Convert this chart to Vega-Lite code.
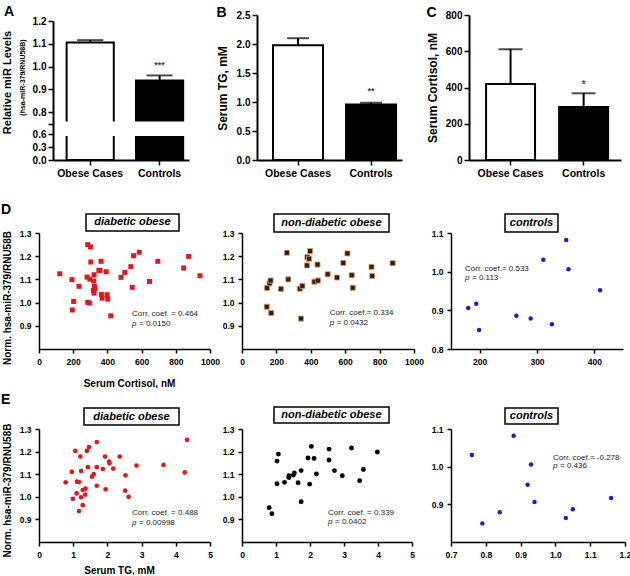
{
  "$schema": "https://vega.github.io/schema/vega-lite/v6.json",
  "background": "white",
  "padding": {"left": 0, "top": 5, "right": 0, "bottom": 0},
  "columns": 3,
  "bounds": "flush",
  "spacing": {"row": 73, "column": 32},
  "config": {
    "font": "Liberation Sans",
    "view": {"stroke": null},
    "axis": {"grid": false, "labelOverlap": false, "labelFlush": false, "labelBound": false, "domainColor": "black", "tickColor": "black", "labelColor": "black", "titleColor": "black", "labelFontWeight": "bold", "titleFontWeight": "bold", "labelFont": "Liberation Sans", "titleFont": "Liberation Sans"},
    "title": {"font": "Liberation Sans", "color": "black"}
  },
  "concat": [
    {
      "width": 150, "height": 145,
      "title": {"text": "A", "anchor": "start", "frame": "group", "fontSize": 14, "fontWeight": "bold", "dx": -35, "dy": 4, "offset": 0},
      "data": {"values": [
        {"group": "Obese Cases", "mean": 1.106, "upper": 1.116, "sig": ""},
        {"group": "Controls", "mean": 0.939, "upper": 0.961, "sig": "***"}
      ]},
      "encoding": {
        "x": {"field": "group", "type": "nominal", "sort": null,
          "scale": {"range": [14, 150], "paddingInner": 0.32, "paddingOuter": 0.14, "align": 0.7},
          "axis": {"labelAngle": 0, "labelOverlap": false, "labelFontSize": 10.5, "labelPadding": 3, "tickSize": 5, "tickWidth": 1.5, "domainWidth": 2,
            "title": "Relative miR Levels", "titleFontSize": 11, "titleAngle": 270, "titleX": -32, "titleY": -78, "titleAlign": "center", "titleBaseline": "middle"}}
      },
      "layer": [
        {"mark": {"type": "bar", "stroke": "black", "strokeWidth": 2},
         "encoding": {
           "y": {"field": "mean", "type": "quantitative",
             "scale": {"domain": [0, 0.6, 0.75, 1.2], "range": [145, 119, 108.5, 6], "nice": false},
             "axis": {"values": [0, 0.3, 0.6, 0.75, 0.8, 0.9, 1.0, 1.1, 1.2], "labelExpr": "datum.value > 0.7 && datum.value < 0.78 ? '' : datum.label", "tickCount": 50, "labelOverlap": false, "labelSeparation": -100, "labelBound": false, "labelFlush": false, "format": ".1f", "offset": -14, "labelFontSize": 10, "labelPadding": 2, "tickSize": 5, "tickWidth": 1.5, "domainWidth": 2,
               "title": "(hsa-miR-379/RNU58B)", "titleFontSize": 7, "titleAngle": 270, "titleX": -31, "titleY": 62, "titleAlign": "center", "titleBaseline": "middle"}},
           "fill": {"field": "group", "type": "nominal", "scale": {"domain": ["Obese Cases", "Controls"], "range": ["white", "black"]}, "legend": null}
         }},
        {"mark": {"type": "rect", "fill": "white", "stroke": "white", "strokeWidth": 4},
         "encoding": {"y": {"datum": 0.6}, "y2": {"datum": 0.75}}},
        {"mark": {"type": "rule", "color": "black", "strokeWidth": 2},
         "encoding": {"y": {"field": "mean", "type": "quantitative"}, "y2": {"field": "upper"}}},
        {"mark": {"type": "tick", "color": "black", "thickness": 2, "size": 26},
         "encoding": {"y": {"field": "upper", "type": "quantitative"}}},
        {"mark": {"type": "text", "fontSize": 9, "fontWeight": "bold", "color": "#444", "dy": -10, "baseline": "middle"},
         "encoding": {"y": {"field": "upper", "type": "quantitative"}, "text": {"field": "sig"}}}
      ]
    },
    {
      "width": 160, "height": 145,
      "data": {"values": [
        {"group": "Obese Cases", "mean": 1.98, "upper": 2.10, "sig": ""},
        {"group": "Controls", "mean": 0.955, "upper": 0.985, "sig": "**"}
      ]},
      "encoding": {
        "x": {"field": "group", "type": "nominal", "sort": null,
          "scale": {"range": [15, 160], "paddingInner": 0.315, "paddingOuter": 0.15, "align": 0.73},
          "axis": {"labelAngle": 0, "labelOverlap": false, "labelFontSize": 10.5, "labelPadding": 3, "tickSize": 5, "tickWidth": 1.5, "domainWidth": 2,
            "title": "B", "titleFontSize": 14, "titleAngle": 0, "titleX": -26, "titleY": -143.5, "titleAlign": "left", "titleBaseline": "alphabetic"}}
      },
      "layer": [
        {"mark": {"type": "bar", "stroke": "black", "strokeWidth": 2},
         "encoding": {
           "y": {"field": "mean", "type": "quantitative",
             "scale": {"domain": [0, 2.5], "nice": false},
             "axis": {"values": [0, 0.5, 1.0, 1.5, 2.0, 2.5], "tickCount": 50, "labelOverlap": false, "format": ".1f", "offset": -15, "labelFontSize": 10, "labelPadding": 2, "tickSize": 5, "tickWidth": 1.5, "domainWidth": 2,
               "title": "Serum TG, mM", "titleFontSize": 12, "titleAngle": 270, "titleX": -35, "titleY": 73, "titleAlign": "center", "titleBaseline": "middle"}},
           "fill": {"field": "group", "type": "nominal", "scale": {"domain": ["Obese Cases", "Controls"], "range": ["white", "black"]}, "legend": null}
         }},
        {"mark": {"type": "rule", "color": "black", "strokeWidth": 2},
         "encoding": {"y": {"field": "mean", "type": "quantitative"}, "y2": {"field": "upper"}}},
        {"mark": {"type": "tick", "color": "black", "thickness": 2, "size": 22},
         "encoding": {"y": {"field": "upper", "type": "quantitative"}}},
        {"mark": {"type": "text", "fontSize": 9, "fontWeight": "bold", "color": "#444", "dy": -12, "baseline": "middle"},
         "encoding": {"y": {"field": "upper", "type": "quantitative"}, "text": {"field": "sig"}}}
      ]
    },
    {
      "width": 175, "height": 145,
      "data": {"values": [
        {"group": "Obese Cases", "mean": 419, "upper": 611, "sig": ""},
        {"group": "Controls", "mean": 292, "upper": 368, "sig": "*"}
      ]},
      "encoding": {
        "x": {"field": "group", "type": "nominal", "sort": null,
          "scale": {"range": [23, 175], "paddingInner": 0.33, "paddingOuter": 0.205, "align": 0.57},
          "axis": {"labelAngle": 0, "labelOverlap": false, "labelFontSize": 10.5, "labelPadding": 3, "tickSize": 5, "tickWidth": 1.5, "domainWidth": 2,
            "title": "C", "titleFontSize": 14, "titleAngle": 0, "titleX": -20, "titleY": -143.5, "titleAlign": "left", "titleBaseline": "alphabetic"}}
      },
      "layer": [
        {"mark": {"type": "bar", "stroke": "black", "strokeWidth": 2},
         "encoding": {
           "y": {"field": "mean", "type": "quantitative",
             "scale": {"domain": [0, 800], "nice": false},
             "axis": {"values": [0, 200, 400, 600, 800], "tickCount": 50, "labelOverlap": false, "format": "d", "offset": -23, "labelFontSize": 10, "labelPadding": 2, "tickSize": 5, "tickWidth": 1.5, "domainWidth": 2,
               "title": "Serum Cortisol, nM", "titleFontSize": 12, "titleAngle": 270, "titleX": -37, "titleY": 72.5, "titleAlign": "center", "titleBaseline": "middle"}},
           "fill": {"field": "group", "type": "nominal", "scale": {"domain": ["Obese Cases", "Controls"], "range": ["white", "black"]}, "legend": null}
         }},
        {"mark": {"type": "rule", "color": "black", "strokeWidth": 2},
         "encoding": {"y": {"field": "mean", "type": "quantitative"}, "y2": {"field": "upper"}}},
        {"mark": {"type": "tick", "color": "black", "thickness": 2, "size": 24},
         "encoding": {"y": {"field": "upper", "type": "quantitative"}}},
        {"mark": {"type": "text", "fontSize": 10, "fontWeight": "bold", "color": "#444", "dy": -8, "baseline": "middle"},
         "encoding": {"y": {"field": "upper", "type": "quantitative"}, "text": {"field": "sig"}}}
      ]
    },
    {
      "width": 171, "height": 116,
      "title": {"text": "D", "anchor": "start", "frame": "group", "fontSize": 14, "fontWeight": "bold", "dx": -38, "dy": 4, "offset": 0},
      "layer": [
        {"data": {"values": [
          {"cortisol": 121, "mir": 1.124}, {"cortisol": 193, "mir": 1.099}, {"cortisol": 234, "mir": 1.070}, {"cortisol": 203, "mir": 1.005},
          {"cortisol": 195, "mir": 0.968}, {"cortisol": 285, "mir": 1.250}, {"cortisol": 301, "mir": 1.240}, {"cortisol": 303, "mir": 1.175},
          {"cortisol": 281, "mir": 1.110}, {"cortisol": 297, "mir": 1.101}, {"cortisol": 322, "mir": 1.120}, {"cortisol": 320, "mir": 1.093},
          {"cortisol": 324, "mir": 1.070}, {"cortisol": 328, "mir": 1.061}, {"cortisol": 318, "mir": 1.053}, {"cortisol": 322, "mir": 1.041},
          {"cortisol": 285, "mir": 1.001}, {"cortisol": 295, "mir": 0.998}, {"cortisol": 350, "mir": 1.139}, {"cortisol": 363, "mir": 1.178},
          {"cortisol": 357, "mir": 1.139}, {"cortisol": 393, "mir": 1.133}, {"cortisol": 365, "mir": 1.035}, {"cortisol": 369, "mir": 1.019},
          {"cortisol": 398, "mir": 1.034}, {"cortisol": 402, "mir": 1.015}, {"cortisol": 420, "mir": 0.943}, {"cortisol": 480, "mir": 1.109},
          {"cortisol": 502, "mir": 1.130}, {"cortisol": 537, "mir": 1.155}, {"cortisol": 553, "mir": 1.202}, {"cortisol": 586, "mir": 1.217},
          {"cortisol": 545, "mir": 1.066}, {"cortisol": 646, "mir": 1.091}, {"cortisol": 695, "mir": 1.178}, {"cortisol": 846, "mir": 1.149},
          {"cortisol": 875, "mir": 1.199}, {"cortisol": 941, "mir": 1.116}
        ]},
         "mark": {"type": "point", "shape": "square", "filled": true, "size": 25, "color": "#e8141c", "opacity": 1},
         "encoding": {
           "x": {"field": "cortisol", "type": "quantitative", "scale": {"domain": [0, 1000], "range": [0, 171], "nice": false},
             "axis": {"values": [0, 200, 400, 600, 800, 1000], "format": "d", "tickCount": 50, "labelOverlap": false, "labelFontSize": 8.5, "labelPadding": 4, "tickSize": 4, "tickWidth": 1.5, "domainWidth": 1.5,
               "title": "Serum Cortisol, nM", "titleFontSize": 10, "titleX": 90, "titleY": 34, "titleAlign": "center", "titleBaseline": "middle"}},
           "y": {"field": "mir", "type": "quantitative", "scale": {"domain": [0.8, 1.3], "range": [116, 0], "nice": false},
             "axis": {"values": [0.9, 1.0, 1.1, 1.2, 1.3], "tickCount": 50, "labelOverlap": false, "format": ".1f", "labelFontSize": 8.5, "labelPadding": 4, "tickSize": 4, "tickWidth": 1.5, "domainWidth": 1.5,
               "title": "Norm. hsa-miR-379/RNU58B", "titleFontSize": 10, "titleAngle": 270, "titleX": -32, "titleY": 64.5, "titleAlign": "center", "titleBaseline": "middle"}}
         }},
        {"data": {"values": [{}]}, "mark": {"type": "rect", "fill": "white", "stroke": "black", "strokeWidth": 1.5},
         "encoding": {"x": {"datum": 274.9}, "x2": {"datum": 818.7}, "y": {"datum": 1.3819}, "y2": {"datum": 1.3086}}},
        {"data": {"values": [{}]}, "mark": {"type": "text", "text": "diabetic obese", "fontSize": 11, "fontStyle": "italic", "fontWeight": "bold", "align": "center", "baseline": "middle"},
         "encoding": {"x": {"datum": 546.8}, "y": {"datum": 1.3453}}},
        {"data": {"values": [{}]}, "mark": {"type": "text", "text": "Corr. coef. = 0.464", "fontSize": 8, "color": "#222", "align": "left", "baseline": "middle"},
         "encoding": {"x": {"datum": 543.9}, "y": {"datum": 0.9496}}},
        {"data": {"values": [{}]}, "mark": {"type": "text", "text": "p", "fontSize": 8, "fontStyle": "italic", "color": "#222", "align": "left", "baseline": "middle"},
         "encoding": {"x": {"datum": 543.9}, "y": {"datum": 0.9065}}},
        {"data": {"values": [{}]}, "mark": {"type": "text", "text": "= 0.0150", "fontSize": 8, "color": "#222", "align": "left", "baseline": "middle", "dx": 7},
         "encoding": {"x": {"datum": 543.9}, "y": {"datum": 0.9065}}}
      ]
    },
    {
      "width": 172, "height": 116,
      "layer": [
        {"data": {"values": [
          {"cortisol": 146, "mir": 1.063}, {"cortisol": 160, "mir": 1.083}, {"cortisol": 166, "mir": 1.095}, {"cortisol": 144, "mir": 0.982},
          {"cortisol": 170, "mir": 0.955}, {"cortisol": 261, "mir": 1.215}, {"cortisol": 269, "mir": 1.100}, {"cortisol": 226, "mir": 1.059},
          {"cortisol": 336, "mir": 1.060}, {"cortisol": 351, "mir": 1.072}, {"cortisol": 343, "mir": 0.931}, {"cortisol": 380, "mir": 1.196},
          {"cortisol": 390, "mir": 1.189}, {"cortisol": 396, "mir": 1.222}, {"cortisol": 378, "mir": 1.160}, {"cortisol": 439, "mir": 1.164},
          {"cortisol": 421, "mir": 1.090}, {"cortisol": 441, "mir": 1.095}, {"cortisol": 498, "mir": 1.122}, {"cortisol": 552, "mir": 1.108},
          {"cortisol": 613, "mir": 1.212}, {"cortisol": 589, "mir": 1.171}, {"cortisol": 638, "mir": 1.118}, {"cortisol": 644, "mir": 1.064},
          {"cortisol": 753, "mir": 1.154}, {"cortisol": 757, "mir": 1.115}, {"cortisol": 876, "mir": 1.170}
        ]},
         "mark": {"type": "point", "shape": "square", "filled": true, "size": 26, "fill": "#3a1c0c", "stroke": "#d9a066", "strokeWidth": 0.8, "opacity": 1},
         "encoding": {
           "x": {"field": "cortisol", "type": "quantitative", "scale": {"domain": [0, 1000], "range": [0, 172], "nice": false},
             "axis": {"values": [0, 200, 400, 600, 800, 1000], "format": "d", "tickCount": 50, "labelOverlap": false, "labelFontSize": 8.5, "labelPadding": 4, "tickSize": 4, "tickWidth": 1.5, "domainWidth": 1.5, "title": null}},
           "y": {"field": "mir", "type": "quantitative", "scale": {"domain": [0.8, 1.3], "range": [116, 0], "nice": false},
             "axis": {"values": [0.9, 1.0, 1.1, 1.2, 1.3], "tickCount": 50, "labelOverlap": false, "format": ".1f", "labelFontSize": 8.5, "labelPadding": 4, "tickSize": 4, "tickWidth": 1.5, "domainWidth": 1.5, "title": null}}
         }},
        {"data": {"values": [{}]}, "mark": {"type": "rect", "fill": "white", "stroke": "black", "strokeWidth": 1.5},
         "encoding": {"x": {"datum": 186}, "x2": {"datum": 854.7}, "y": {"datum": 1.3819}, "y2": {"datum": 1.3043}}},
        {"data": {"values": [{}]}, "mark": {"type": "text", "text": "non-diabetic obese", "fontSize": 11, "fontStyle": "italic", "fontWeight": "bold", "align": "center", "baseline": "middle"},
         "encoding": {"x": {"datum": 520}, "y": {"datum": 1.3431}}},
        {"data": {"values": [{}]}, "mark": {"type": "text", "text": "Corr. coef.= 0.334", "fontSize": 8, "color": "#222", "align": "left", "baseline": "middle"},
         "encoding": {"x": {"datum": 509.9}, "y": {"datum": 0.9539}}},
        {"data": {"values": [{}]}, "mark": {"type": "text", "text": "p", "fontSize": 8, "fontStyle": "italic", "color": "#222", "align": "left", "baseline": "middle"},
         "encoding": {"x": {"datum": 509.9}, "y": {"datum": 0.9134}}},
        {"data": {"values": [{}]}, "mark": {"type": "text", "text": "= 0.0432", "fontSize": 8, "color": "#222", "align": "left", "baseline": "middle", "dx": 7},
         "encoding": {"x": {"datum": 509.9}, "y": {"datum": 0.9134}}}
      ]
    },
    {
      "width": 177, "height": 116,
      "layer": [
        {"data": {"values": [
          {"cortisol": 180, "mir": 0.906}, {"cortisol": 194, "mir": 0.917}, {"cortisol": 199, "mir": 0.849}, {"cortisol": 264, "mir": 0.886},
          {"cortisol": 289, "mir": 0.879}, {"cortisol": 311, "mir": 1.031}, {"cortisol": 326, "mir": 0.864}, {"cortisol": 351, "mir": 1.082},
          {"cortisol": 355, "mir": 1.006}, {"cortisol": 410, "mir": 0.952}
        ]},
         "mark": {"type": "circle", "size": 20, "color": "#1c1cd8", "opacity": 1},
         "encoding": {
           "x": {"field": "cortisol", "type": "quantitative", "scale": {"domain": [150, 450], "range": [5, 177], "nice": false},
             "axis": {"values": [200, 300, 400], "format": "d", "tickCount": 50, "labelOverlap": false, "labelFontSize": 8.5, "labelPadding": 4, "tickSize": 4, "tickWidth": 1.5, "domainWidth": 1.5, "title": null}},
           "y": {"field": "mir", "type": "quantitative", "scale": {"domain": [0.8, 1.1], "range": [116, 0], "nice": false},
             "axis": {"values": [0.8, 0.9, 1.0, 1.1], "tickCount": 50, "labelOverlap": false, "format": ".1f", "offset": -5, "labelFontSize": 8.5, "labelPadding": 4, "tickSize": 4, "tickWidth": 1.5, "domainWidth": 1.5, "title": null}}
         }},
        {"data": {"values": [{}]}, "mark": {"type": "rect", "fill": "white", "stroke": "black", "strokeWidth": 1.5},
         "encoding": {"x": {"datum": 244.2}, "x2": {"datum": 336.6}, "y": {"datum": 1.1491}, "y2": {"datum": 1.1026}}},
        {"data": {"values": [{}]}, "mark": {"type": "text", "text": "controls", "fontSize": 11, "fontStyle": "italic", "fontWeight": "bold", "align": "center", "baseline": "middle"},
         "encoding": {"x": {"datum": 290.4}, "y": {"datum": 1.1259}}},
        {"data": {"values": [{}]}, "mark": {"type": "text", "text": "Corr. coef.= 0.533", "fontSize": 8, "color": "#222", "align": "left", "baseline": "middle"},
         "encoding": {"x": {"datum": 174.4}, "y": {"datum": 1.0069}}},
        {"data": {"values": [{}]}, "mark": {"type": "text", "text": "p", "fontSize": 8, "fontStyle": "italic", "color": "#222", "align": "left", "baseline": "middle"},
         "encoding": {"x": {"datum": 174.4}, "y": {"datum": 0.9829}}},
        {"data": {"values": [{}]}, "mark": {"type": "text", "text": "= 0.113", "fontSize": 8, "color": "#222", "align": "left", "baseline": "middle", "dx": 7},
         "encoding": {"x": {"datum": 174.4}, "y": {"datum": 0.9829}}}
      ]
    },
    {
      "width": 171, "height": 120,
      "title": {"text": "E", "anchor": "start", "frame": "group", "fontSize": 14, "fontWeight": "bold", "dx": -38, "offset": 0},
      "layer": [
        {"data": {"values": [
          {"tg": 0.78, "mir": 1.064}, {"tg": 0.96, "mir": 1.110}, {"tg": 0.99, "mir": 0.991}, {"tg": 1.06, "mir": 1.203},
          {"tg": 1.11, "mir": 1.067}, {"tg": 1.17, "mir": 1.065}, {"tg": 1.10, "mir": 1.015}, {"tg": 1.21, "mir": 1.178},
          {"tg": 1.23, "mir": 1.114}, {"tg": 1.23, "mir": 0.998}, {"tg": 1.17, "mir": 0.937}, {"tg": 1.28, "mir": 1.030},
          {"tg": 1.28, "mir": 0.963}, {"tg": 1.36, "mir": 1.036}, {"tg": 1.35, "mir": 1.010}, {"tg": 1.40, "mir": 1.203},
          {"tg": 1.46, "mir": 1.220}, {"tg": 1.43, "mir": 1.131}, {"tg": 1.55, "mir": 1.089}, {"tg": 1.60, "mir": 1.100},
          {"tg": 1.69, "mir": 1.242}, {"tg": 1.69, "mir": 1.131}, {"tg": 1.69, "mir": 1.049}, {"tg": 1.87, "mir": 1.123},
          {"tg": 1.93, "mir": 1.178}, {"tg": 1.95, "mir": 1.033}, {"tg": 2.05, "mir": 1.156}, {"tg": 2.06, "mir": 1.148},
          {"tg": 2.17, "mir": 1.125}, {"tg": 2.36, "mir": 1.178}, {"tg": 2.53, "mir": 1.095}, {"tg": 2.52, "mir": 1.027},
          {"tg": 2.62, "mir": 1.000}, {"tg": 2.85, "mir": 1.138}, {"tg": 3.64, "mir": 1.141}, {"tg": 4.26, "mir": 1.108},
          {"tg": 4.33, "mir": 1.252}
        ]},
         "mark": {"type": "circle", "size": 22, "color": "#e8141c", "opacity": 1},
         "encoding": {
           "x": {"field": "tg", "type": "quantitative", "scale": {"domain": [0, 5], "range": [0, 171], "nice": false},
             "axis": {"values": [0, 1, 2, 3, 4, 5], "format": "d", "tickCount": 50, "labelOverlap": false, "labelFontSize": 8.5, "labelPadding": 4, "tickSize": 4, "tickWidth": 1.5, "domainWidth": 1.5,
               "title": "Serum TG, mM", "titleFontSize": 10, "titleX": 80, "titleY": 28, "titleAlign": "center", "titleBaseline": "middle"}},
           "y": {"field": "mir", "type": "quantitative", "scale": {"domain": [0.8, 1.3], "range": [120, 7], "nice": false},
             "axis": {"values": [0.9, 1.0, 1.1, 1.2, 1.3], "tickCount": 50, "labelOverlap": false, "format": ".1f", "labelFontSize": 8.5, "labelPadding": 4, "tickSize": 4, "tickWidth": 1.5, "domainWidth": 1.5,
               "title": "Norm. hsa-miR-379/RNU58B", "titleFontSize": 10, "titleAngle": 270, "titleX": -32, "titleY": 68, "titleAlign": "center", "titleBaseline": "middle"}}
         }},
        {"data": {"values": [{}]}, "mark": {"type": "rect", "fill": "white", "stroke": "black", "strokeWidth": 1.5},
         "encoding": {"x": {"datum": 1.316}, "x2": {"datum": 4.094}, "y": {"datum": 1.3929}, "y2": {"datum": 1.3177}}},
        {"data": {"values": [{}]}, "mark": {"type": "text", "text": "diabetic obese", "fontSize": 11, "fontStyle": "italic", "fontWeight": "bold", "align": "center", "baseline": "middle"},
         "encoding": {"x": {"datum": 2.705}, "y": {"datum": 1.3553}}},
        {"data": {"values": [{}]}, "mark": {"type": "text", "text": "Corr. coef. = 0.488", "fontSize": 8, "color": "#222", "align": "left", "baseline": "middle"},
         "encoding": {"x": {"datum": 2.719}, "y": {"datum": 0.9283}}},
        {"data": {"values": [{}]}, "mark": {"type": "text", "text": "p", "fontSize": 8, "fontStyle": "italic", "color": "#222", "align": "left", "baseline": "middle"},
         "encoding": {"x": {"datum": 2.719}, "y": {"datum": 0.8841}}},
        {"data": {"values": [{}]}, "mark": {"type": "text", "text": "= 0.00998", "fontSize": 8, "color": "#222", "align": "left", "baseline": "middle", "dx": 7},
         "encoding": {"x": {"datum": 2.719}, "y": {"datum": 0.8841}}}
      ]
    },
    {
      "width": 170, "height": 120,
      "layer": [
        {"data": {"values": [
          {"tg": 0.80, "mir": 0.952}, {"tg": 0.88, "mir": 0.925}, {"tg": 1.03, "mir": 1.058}, {"tg": 1.03, "mir": 1.158},
          {"tg": 1.07, "mir": 1.189}, {"tg": 1.25, "mir": 1.064}, {"tg": 1.38, "mir": 1.085}, {"tg": 1.38, "mir": 1.093},
          {"tg": 1.51, "mir": 1.096}, {"tg": 1.54, "mir": 1.105}, {"tg": 1.65, "mir": 1.062}, {"tg": 1.74, "mir": 1.116},
          {"tg": 1.74, "mir": 0.978}, {"tg": 1.94, "mir": 1.172}, {"tg": 1.99, "mir": 1.056}, {"tg": 2.04, "mir": 1.223},
          {"tg": 2.12, "mir": 1.170}, {"tg": 2.19, "mir": 1.101}, {"tg": 2.56, "mir": 1.211}, {"tg": 2.56, "mir": 1.163},
          {"tg": 2.72, "mir": 1.116}, {"tg": 2.95, "mir": 1.093}, {"tg": 3.22, "mir": 1.216}, {"tg": 3.46, "mir": 1.071},
          {"tg": 3.57, "mir": 1.121}, {"tg": 3.98, "mir": 1.198}
        ]},
         "mark": {"type": "circle", "size": 24, "color": "black", "opacity": 1},
         "encoding": {
           "x": {"field": "tg", "type": "quantitative", "scale": {"domain": [0, 5], "range": [0, 170], "nice": false},
             "axis": {"values": [0, 1, 2, 3, 4, 5], "format": "d", "tickCount": 50, "labelOverlap": false, "labelFontSize": 8.5, "labelPadding": 4, "tickSize": 4, "tickWidth": 1.5, "domainWidth": 1.5, "title": null}},
           "y": {"field": "mir", "type": "quantitative", "scale": {"domain": [0.8, 1.3], "range": [120, 7], "nice": false},
             "axis": {"values": [0.9, 1.0, 1.1, 1.2, 1.3], "tickCount": 50, "labelOverlap": false, "format": ".1f", "labelFontSize": 8.5, "labelPadding": 4, "tickSize": 4, "tickWidth": 1.5, "domainWidth": 1.5, "title": null}}
         }},
        {"data": {"values": [{}]}, "mark": {"type": "rect", "fill": "white", "stroke": "black", "strokeWidth": 1.5},
         "encoding": {"x": {"datum": 0.941}, "x2": {"datum": 4.324}, "y": {"datum": 1.3973}, "y2": {"datum": 1.3265}}},
        {"data": {"values": [{}]}, "mark": {"type": "text", "text": "non-diabetic obese", "fontSize": 11, "fontStyle": "italic", "fontWeight": "bold", "align": "center", "baseline": "middle"},
         "encoding": {"x": {"datum": 2.632}, "y": {"datum": 1.362}}},
        {"data": {"values": [{}]}, "mark": {"type": "text", "text": "Corr. coef. = 0.339", "fontSize": 8, "color": "#222", "align": "left", "baseline": "middle"},
         "encoding": {"x": {"datum": 2.529}, "y": {"datum": 0.927}}},
        {"data": {"values": [{}]}, "mark": {"type": "text", "text": "p", "fontSize": 8, "fontStyle": "italic", "color": "#222", "align": "left", "baseline": "middle"},
         "encoding": {"x": {"datum": 2.529}, "y": {"datum": 0.8872}}},
        {"data": {"values": [{}]}, "mark": {"type": "text", "text": "= 0.0402", "fontSize": 8, "color": "#222", "align": "left", "baseline": "middle", "dx": 7},
         "encoding": {"x": {"datum": 2.529}, "y": {"datum": 0.8872}}}
      ]
    },
    {
      "width": 179, "height": 120,
      "layer": [
        {"data": {"values": [
          {"tg": 0.76, "mir": 1.031}, {"tg": 0.79, "mir": 0.849}, {"tg": 0.84, "mir": 0.879}, {"tg": 0.88, "mir": 1.082},
          {"tg": 0.92, "mir": 0.952}, {"tg": 0.93, "mir": 1.006}, {"tg": 0.94, "mir": 0.906}, {"tg": 1.03, "mir": 0.864},
          {"tg": 1.05, "mir": 0.887}, {"tg": 1.16, "mir": 0.917}
        ]},
         "mark": {"type": "circle", "size": 20, "color": "#1c1cd8", "opacity": 1},
         "encoding": {
           "x": {"field": "tg", "type": "quantitative", "scale": {"domain": [0.7, 1.2], "range": [5, 179], "nice": false},
             "axis": {"values": [0.7, 0.8, 0.9, 1.0, 1.1, 1.2], "tickCount": 50, "labelOverlap": false, "format": ".1f", "labelFontSize": 8.5, "labelPadding": 4, "tickSize": 4, "tickWidth": 1.5, "domainWidth": 1.5, "title": null}},
           "y": {"field": "mir", "type": "quantitative", "scale": {"domain": [0.8, 1.1], "range": [120, 7], "nice": false},
             "axis": {"values": [0.9, 1.0, 1.1], "tickCount": 50, "labelOverlap": false, "format": ".1f", "offset": -5, "labelFontSize": 8.5, "labelPadding": 4, "tickSize": 4, "tickWidth": 1.5, "domainWidth": 1.5, "title": null}}
         }},
        {"data": {"values": [{}]}, "mark": {"type": "rect", "fill": "white", "stroke": "black", "strokeWidth": 1.5},
         "encoding": {"x": {"datum": 0.8552}, "x2": {"datum": 1.0075}, "y": {"datum": 1.1557}, "y2": {"datum": 1.1132}}},
        {"data": {"values": [{}]}, "mark": {"type": "text", "text": "controls", "fontSize": 11, "fontStyle": "italic", "fontWeight": "bold", "align": "center", "baseline": "middle"},
         "encoding": {"x": {"datum": 0.9313}, "y": {"datum": 1.1345}}},
        {"data": {"values": [{}]}, "mark": {"type": "text", "text": "Corr. coef.= -0.278", "fontSize": 8, "color": "#222", "align": "left", "baseline": "middle"},
         "encoding": {"x": {"datum": 0.9931}, "y": {"datum": 1.0238}}},
        {"data": {"values": [{}]}, "mark": {"type": "text", "text": "p", "fontSize": 8, "fontStyle": "italic", "color": "#222", "align": "left", "baseline": "middle"},
         "encoding": {"x": {"datum": 0.9931}, "y": {"datum": 1.001}}},
        {"data": {"values": [{}]}, "mark": {"type": "text", "text": "= 0.436", "fontSize": 8, "color": "#222", "align": "left", "baseline": "middle", "dx": 7},
         "encoding": {"x": {"datum": 0.9931}, "y": {"datum": 1.001}}}
      ]
    }
  ]
}
